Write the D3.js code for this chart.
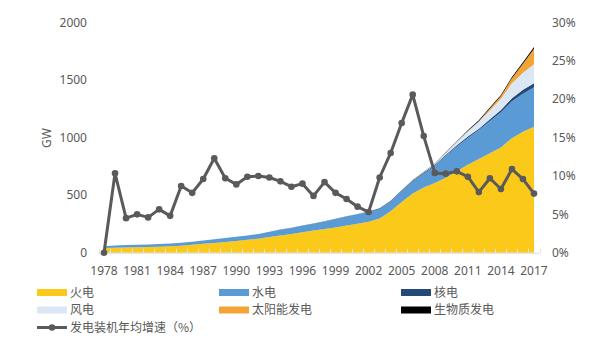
<!DOCTYPE html>
<html>
<head>
<meta charset="utf-8">
<script src="https://cdn.jsdelivr.net/npm/d3@7/dist/d3.min.js"></script>
<style>
  html, body { margin: 0; padding: 0; background: #ffffff; }
  svg { display: block; }
  .tick-label { font-family: "Noto Sans", "DejaVu Sans", sans-serif; font-size: 12px; fill: #595959; }
  .legend-label { font-family: "Noto Sans CJK SC", "Noto Sans", sans-serif; font-size: 12px; fill: #595959; }
</style>
</head>
<body>
<svg id="chart" width="589" height="345"></svg>
<script>
// Installed generating capacity by source (GW), 1978-2017, and yearly growth of total capacity (%)
const years = d3.range(1978, 2018);

const thermal = [40, 43, 46, 47, 49, 52, 56, 61, 68, 77,
                 85, 93, 102, 112, 122, 137, 150, 163, 178, 192,
                 206, 220, 236, 252, 268, 298, 360, 440, 515, 566,
                 605, 652, 708, 765, 815, 865, 915, 995, 1050, 1095];

const hydro = [17, 19, 20, 22, 23, 24, 25, 26, 28, 30,
               32, 34, 36, 38, 41, 45, 49, 52, 56, 60,
               65, 73, 79, 83, 86, 82, 85, 95, 105, 122,
               150, 190, 215, 232, 250, 280, 305, 320, 332, 342];

const nuclear = [0, 0, 0, 0, 0, 0, 0, 0, 0, 0,
                 0, 0, 0, 0, 0, 0, 2.1, 2.1, 2.1, 2.1,
                 2.1, 2.1, 2.1, 2.1, 4.5, 6.2, 6.8, 6.8, 6.8, 8.9,
                 8.9, 9.1, 10.8, 12.6, 12.6, 14.7, 20.1, 27.2, 33.6, 35.8];

const wind = [0, 0, 0, 0, 0, 0, 0, 0, 0, 0,
              0, 0, 0, 0, 0, 0, 0, 0, 0.2, 0.2,
              0.2, 0.3, 0.3, 0.4, 0.5, 0.6, 0.8, 1.1, 2.1, 4.2,
              8.4, 17.6, 29.6, 46.2, 61.4, 76.5, 96.6, 130.8, 148.6, 163.7];

const solar = [0, 0, 0, 0, 0, 0, 0, 0, 0, 0,
               0, 0, 0, 0, 0, 0, 0, 0, 0, 0,
               0, 0, 0, 0, 0, 0, 0, 0, 0, 0,
               0, 0.03, 0.3, 2.1, 3.4, 15.9, 24.9, 42.2, 77.4, 135];

const biomass = [0, 0, 0, 0, 0, 0, 0, 0, 0, 0,
                 0, 0, 0, 0, 0, 0, 0, 0, 0, 0,
                 0, 0, 0, 0, 0, 0, 0, 0, 2, 2.5,
                 3, 3.5, 5.5, 6.5, 7.5, 8.5, 9.5, 10.5, 12, 15];

const growth = [0, 10.35, 4.5, 5.0, 4.6, 5.65, 4.8, 8.7, 7.8, 9.6,
                12.3, 9.7, 8.9, 9.9, 10.0, 9.8, 9.3, 8.6, 9.0, 7.4,
                9.2, 7.8, 7.0, 6.0, 5.3, 9.8, 13.0, 16.9, 20.6, 15.2,
                10.4, 10.3, 10.6, 9.9, 7.9, 9.7, 8.3, 10.9, 9.6, 7.7];

const leftTicks = [0, 500, 1000, 1500, 2000];
const rightTicks = [0, 5, 10, 15, 20, 25, 30];
const xTickYears = d3.range(1978, 2018, 3);

const seriesKeys = ["火电", "水电", "核电", "风电", "太阳能发电", "生物质发电"];
const seriesValues = [thermal, hydro, nuclear, wind, solar, biomass];
const seriesColors = ["#FBC91A", "#5B9BD5", "#264A78", "#DCE7F5", "#F2A535", "#000000"];
const lineName = "发电装机年均增速（%）";
const lineColor = "#5A5A5A";

// Table for the stack layout
const table = years.map((y, i) => {
  const row = { year: y };
  seriesKeys.forEach((k, j) => { row[k] = seriesValues[j][i]; });
  return row;
});

const svg = d3.select("#chart");

const plotTop = 22.5, plotBottom = 252.7;
const x = d3.scaleBand().domain(years).range([98.5, 539.5]).paddingInner(0).paddingOuter(0);
const cx = d => x(d) + x.bandwidth() / 2;
const yL = d3.scaleLinear().domain([0, 2000]).range([plotBottom, plotTop]);
const yR = d3.scaleLinear().domain([0, 30]).range([plotBottom, plotTop]);

// Stacked areas
const stack = d3.stack().keys(seriesKeys);
const layers = stack(table);
const area = d3.area()
  .x(d => cx(d.data.year))
  .y0(d => yL(d[0]))
  .y1(d => yL(d[1]));

svg.append("g").selectAll("path")
  .data(layers)
  .join("path")
  .attr("d", area)
  .attr("fill", (d, i) => seriesColors[i]);

// Category axis: baseline with small tick marks between categories
const axisG = svg.append("g");
axisG.append("line")
  .attr("x1", x.range()[0]).attr("x2", x.range()[1])
  .attr("y1", plotBottom + 0.5).attr("y2", plotBottom + 0.5)
  .attr("stroke", "#D9D9D9").attr("stroke-width", 1);
const boundaries = years.map(y => x(y)).concat([x.range()[1]]);
axisG.selectAll("line.tk")
  .data(boundaries)
  .join("line")
  .attr("class", "tk")
  .attr("x1", d => Math.round(d) + 0.5).attr("x2", d => Math.round(d) + 0.5)
  .attr("y1", plotBottom - 4).attr("y2", plotBottom + 0.5)
  .attr("stroke", "#E3E3E3").attr("stroke-width", 1);

// X tick labels
svg.append("g").selectAll("text")
  .data(xTickYears)
  .join("text")
  .attr("class", "tick-label")
  .attr("x", d => cx(d))
  .attr("y", 275)
  .attr("text-anchor", "middle")
  .text(d => d);

// Left axis labels
svg.append("g").selectAll("text")
  .data(leftTicks)
  .join("text")
  .attr("class", "tick-label")
  .attr("x", 87)
  .attr("y", d => yL(d))
  .attr("dy", "0.35em")
  .attr("text-anchor", "end")
  .text(d => d);

// Right axis labels
svg.append("g").selectAll("text")
  .data(rightTicks)
  .join("text")
  .attr("class", "tick-label")
  .attr("x", 552)
  .attr("y", d => yR(d))
  .attr("dy", "0.35em")
  .attr("text-anchor", "start")
  .text(d => d + "%");

// Left axis title
svg.append("text")
  .attr("class", "tick-label")
  .attr("transform", "translate(51,138) rotate(-90)")
  .attr("text-anchor", "middle")
  .text("GW");

// Growth-rate line with markers
const line = d3.line()
  .x((d, i) => cx(years[i]))
  .y(d => yR(d));

svg.append("path")
  .datum(growth)
  .attr("d", line)
  .attr("fill", "none")
  .attr("stroke", lineColor)
  .attr("stroke-width", 3)
  .attr("stroke-linejoin", "round");

svg.append("g").selectAll("circle")
  .data(growth)
  .join("circle")
  .attr("cx", (d, i) => cx(years[i]))
  .attr("cy", d => yR(d))
  .attr("r", 3.3)
  .attr("fill", lineColor);

// Legend
const legendCols = [37, 219, 401];
const legendRows = [292.5, 310, 327.5];
const legend = svg.append("g");
seriesKeys.forEach((k, i) => {
  const lx = legendCols[i % 3];
  const ly = legendRows[Math.floor(i / 3)];
  legend.append("rect")
    .attr("x", lx).attr("y", ly - 3.5)
    .attr("width", 30).attr("height", 7)
    .attr("fill", seriesColors[i]);
  legend.append("text")
    .attr("class", "legend-label")
    .attr("x", lx + 33).attr("y", ly)
    .attr("dy", "0.36em")
    .text(k);
});
legend.append("line")
  .attr("x1", legendCols[0]).attr("x2", legendCols[0] + 30)
  .attr("y1", legendRows[2]).attr("y2", legendRows[2])
  .attr("stroke", lineColor).attr("stroke-width", 3);
legend.append("circle")
  .attr("cx", legendCols[0] + 15).attr("cy", legendRows[2])
  .attr("r", 3.3).attr("fill", lineColor);
legend.append("text")
  .attr("class", "legend-label")
  .attr("x", legendCols[0] + 33).attr("y", legendRows[2])
  .attr("dy", "0.36em")
  .text(lineName);
</script>
</body>
</html>
